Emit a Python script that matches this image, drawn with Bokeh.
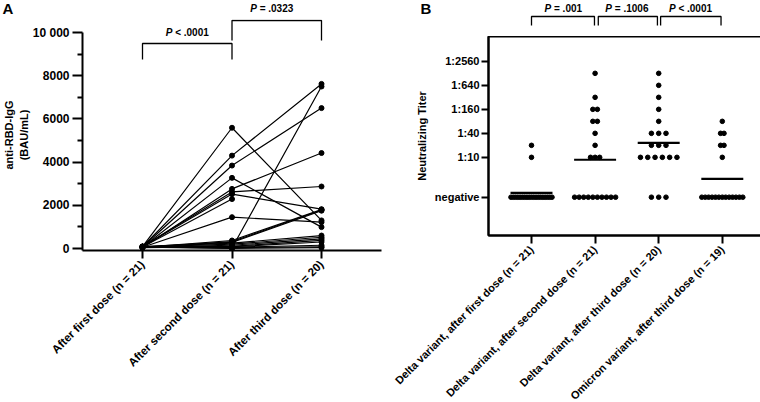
import math
from collections import Counter
from bokeh.plotting import figure
from bokeh.layouts import row, column
from bokeh.models import FixedTicker, Range1d
from bokeh.core.properties import value
from bokeh.embed import file_html
from bokeh.resources import INLINE

FONT = "Liberation Sans"
NAN = float("nan")

# ---------------- data: panel A (anti-RBD-IgG, BAU/mL) ----------------
doses = ["After first dose (n = 21)", "After second dose (n = 21)", "After third dose (n = 20)"]
first_dose = [90, 80, 70, 60, 50, 90, 80, 70, 60, 50, 40, 90, 80, 70, 60, 50, 40, 90, 80, 70, 60]
second_dose = [5590, 4300, 3840, 3270, 2760, 2620, 2520, 2290, 1450, 370, 320,
               280, 250, 200, 150, 100, 80, 60, 40, 20, 10]
third_dose = [1300, 7620, 6500, 990, 4420, 2870, 1820, None, 1220, 1800, 1780,
              1750, 600, 520, 450, 380, 300, 150, 80, 7500, 40]
p_a = ["P < .0001", "P = .0323"]
a_ticks = [0, 2000, 4000, 6000, 8000, 10000]
a_minor = [1000, 3000, 5000, 7000, 9000]

# ---------------- data: panel B (neutralizing titer, 0 = negative) ----------------
variants = ["Delta variant, after first dose (n = 21)",
            "Delta variant, after second dose (n = 21)",
            "Delta variant, after third dose (n = 20)",
            "Omicron variant, after third dose (n = 19)"]
delta_first = [20, 10, 0, 0, 0, 0, 0, 0, 0, 0, 0, 0, 0, 0, 0, 0, 0, 0, 0, 0, 0]
delta_second = [1280, 320, 160, 160, 80, 80, 40, 20, 10, 10, 10,
                0, 0, 0, 0, 0, 0, 0, 0, 0, 0]
delta_third = [1280, 640, 320, 160, 80, 40, 40, 40, 20, 20, 20,
               10, 10, 10, 10, 10, 10, 0, 0, 0]
omicron_third = [80, 40, 40, 20, 20, 10, 0, 0, 0, 0, 0, 0, 0, 0, 0, 0, 0, 0, 0]
p_b = ["P = .001", "P = .1006", "P < .0001"]
titer_ticks = [1, 10, 40, 160, 640, 2560]
titer_labels = ["negative", "1:10", "1:40", "1:160", "1:640", "1:2560"]
NEG = 1  # plotting position of "negative"

# ---------------- helpers ----------------
W_CH = {"P": 0.667, " ": 0.278, "=": 0.584, "<": 0.584, ".": 0.278}


def text_w(s, size):
    return sum(W_CH.get(c, 0.556) for c in s) * size


def p_text(p, x, y, s, size=10):
    """Draw italic 'P' + bold remainder, centred at (x, y)."""
    rest = s[1:].lstrip()
    wp = (W_CH["P"] + W_CH[" "]) * size
    total = wp + text_w(rest, size)
    common = dict(text_align="left", text_baseline="middle", text_font=value(FONT),
                  text_font_size=f"{size}px", text_color="black")
    p.text(x=[x], y=[y], text=["P"], x_offset=-total / 2, text_font_style="bold italic", **common)
    p.text(x=[x], y=[y], text=[rest], x_offset=-total / 2 + wp, text_font_style="bold", **common)


def style_axis(ax, size, tick_out):
    ax.axis_line_width = 2
    ax.major_tick_line_width = 2
    ax.major_tick_out = tick_out
    ax.major_tick_in = 0
    ax.major_label_text_font = FONT
    ax.major_label_text_font_style = "bold"
    ax.major_label_text_font_size = size
    ax.major_label_text_color = "black"


def strip(width, height, x0, x1):
    f = figure(frame_width=width, frame_height=height, output_backend="svg",
               toolbar_location=None,
               x_range=Range1d(x0, x1), y_range=Range1d(height, 0),
               x_axis_location=None, y_axis_location=None,
               min_border=0, min_border_left=0, min_border_right=0,
               min_border_top=0, min_border_bottom=0)
    f.outline_line_color = None
    f.grid.visible = False
    return f


TOTAL_H = 402
COL_W = 380

# ================= Panel A =================
A_PX = 89.5            # px per category
A_X0 = 137             # screen x of first category
A_FL, A_FR = 77, 376   # frame left / right (screen)
A_HEAD = 19            # height of header strip
A_FB = 250             # frame bottom (screen)
A_Y0 = 248             # screen y of value 0
A_PPK = 21.6           # px per 1000 BAU/mL


def ax_(gx):
    return (gx - A_X0) / A_PX


def ay_(gy):
    return (A_Y0 - gy) / A_PPK * 1000


ahead = strip(COL_W, A_HEAD, ax_(0), ax_(COL_W))
ahead.text(x=[ax_(2)], y=[8], text=["A"], text_align="left", text_baseline="middle",
           text_font=value(FONT), text_font_style="bold", text_font_size="15px",
           text_color="black")
p_text(ahead, 1.5, 7.5, p_a[1])

pa = figure(frame_width=A_FR - A_FL, frame_height=A_FB - A_HEAD,
            output_backend="svg", toolbar_location=None,
            x_range=Range1d(ax_(A_FL), ax_(A_FR)), y_range=Range1d(ay_(A_FB), ay_(A_HEAD)),
            min_border_left=A_FL, min_border_right=COL_W - A_FR, min_border_top=0,
            min_border_bottom=TOTAL_H - A_FB)
pa.outline_line_color = None
pa.grid.visible = False

xs, ys, px, py = [], [], [], []
for f, s, t in zip(first_dose, second_dose, third_dose):
    xs.append([0, 1, 2])
    ys.append([f, s, NAN if t is None else t])
    for xi, v in zip([0, 1, 2], [f, s, t]):
        if v is not None:
            px.append(xi)
            py.append(v)
pa.multi_line(xs, ys, line_color="black", line_width=1.2)
pa.scatter(px, py, size=5, color="black")

# significance brackets
pa.multi_line([[0, 0, 1, 1], [1, 1, 2, 2]],
              [[ay_(59), ay_(43), ay_(43), ay_(59)], [ay_(40), ay_(20), ay_(20), ay_(40)]],
              line_color="black", line_width=1.3)
p_text(pa, 0.5, ay_(32), p_a[0])

xa = pa.xaxis[0]
xa.ticker = FixedTicker(ticks=[0, 1, 2])
xa.major_label_overrides = {i: d for i, d in enumerate(doses)}
xa.major_label_orientation = math.pi / 4
xa.minor_tick_line_color = None
xa.major_label_standoff = 4
style_axis(xa, "11.5px", 8)

ya = pa.yaxis[0]
ya.ticker = FixedTicker(ticks=a_ticks, minor_ticks=a_minor)
ya.bounds = (ay_(A_FB), 10000)
ya.major_label_overrides = {10000: "10 000"}
ya.minor_tick_line_width = 2
ya.minor_tick_out = 5
ya.minor_tick_in = 0
ya.major_label_standoff = 3
style_axis(ya, "12px", 10)
ya.axis_label = "anti-RBD-IgG\n(BAU/mL)"
ya.axis_label_standoff = 0
ya.axis_label_text_font = FONT
ya.axis_label_text_font_style = "bold"
ya.axis_label_text_font_size = "11px"
ya.axis_label_text_color = "black"

# ================= Panel B =================
B_PX = 63.6
B_X0 = 526
B_FL, B_FR = 483, 758
B_FT, B_FB = 36, 235
B_NEG_Y = 196.7
PX_PER_L2 = 12.0
B_LEFT = COL_W  # screen x where panel B column starts


def bx_(gx):
    return (gx - B_X0) / B_PX


def by_(gy):
    return 2 ** ((B_NEG_Y - gy) / PX_PER_L2)


bhead = strip(COL_W, B_FT, bx_(B_LEFT), bx_(B_LEFT + COL_W))
bhead.text(x=[bx_(415)], y=[8], text=["B"], text_align="left", text_baseline="middle",
           text_font=value(FONT), text_font_style="bold", text_font_size="15px",
           text_color="black")
bhead.multi_line([[0, 0, 0.99, 0.99], [1.05, 1.05, 1.98, 1.98], [2.03, 2.03, 2.98, 2.98]],
                 [[25, 16, 16, 25]] * 3, line_color="black", line_width=1.3)
for cxv, s in zip([0.5, 1.5, 2.5], p_b):
    p_text(bhead, cxv, 7.5, s)

pb = figure(frame_width=B_FR - B_FL, frame_height=B_FB - B_FT,
            output_backend="svg", toolbar_location=None,
            x_range=Range1d(bx_(B_FL), bx_(B_FR)), y_range=Range1d(by_(B_FB), by_(B_FT)),
            y_axis_type="log",
            min_border_left=B_FL - B_LEFT, min_border_right=B_LEFT + COL_W - B_FR,
            min_border_top=0, min_border_bottom=TOTAL_H - B_FB)
pb.outline_line_color = "black"
pb.outline_line_width = 2
pb.grid.visible = False

groups = [delta_first, delta_second, delta_third, omicron_third]
dx, dy = [], []
mx0, mx1, my = [], [], []
for gi, vals in enumerate(groups):
    pos = [v if v > 0 else NEG for v in vals]
    cnt = Counter(pos)
    maxc = max(cnt.values())
    sp = min(7.3, 41.0 / (maxc - 1)) if maxc > 1 else 0.0
    for v, c in cnt.items():
        for k in range(c):
            dx.append(gi + (k - (c - 1) / 2) * sp / B_PX)
            dy.append(v)
    gm = 2 ** (sum(math.log2(v) for v in pos) / len(pos))
    mx0.append(gi - 0.33)
    mx1.append(gi + 0.33)
    my.append(gm)
pb.scatter(dx, dy, size=4.6, color="black")
pb.segment(x0=mx0, y0=my, x1=mx1, y1=my, line_color="black", line_width=2.2)

xb = pb.xaxis[0]
xb.ticker = FixedTicker(ticks=[0, 1, 2, 3])
xb.major_label_overrides = {i: v for i, v in enumerate(variants)}
xb.major_label_orientation = math.pi / 4
xb.minor_tick_line_color = None
xb.major_label_standoff = 4
style_axis(xb, "11px", 8)

yb = pb.yaxis[0]
yb.ticker = FixedTicker(ticks=titer_ticks)
yb.major_label_overrides = {t: l for t, l in zip(titer_ticks, titer_labels)}
yb.minor_tick_line_color = None
yb.major_label_standoff = 2
style_axis(yb, "11px", 7)
yb.axis_label = "Neutralizing Titer"
yb.axis_label_standoff = 4
yb.axis_label_text_font = FONT
yb.axis_label_text_font_style = "bold"
yb.axis_label_text_font_size = "11px"
yb.axis_label_text_color = "black"

layout = row(column(row(ahead), pa), column(row(bhead), pb))
open("out.html", "w").write(file_html(layout, INLINE))
